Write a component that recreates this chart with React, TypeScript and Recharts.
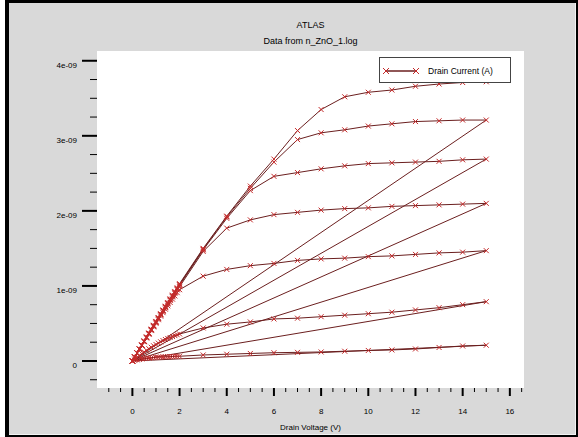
import { LineChart, Line, XAxis, YAxis, CartesianGrid, ReferenceArea, Legend } from 'recharts';

// drain voltage sweep points (V)
const VD = [0, 0.1, 0.2, 0.3, 0.4, 0.5, 0.6, 0.7, 0.8, 0.9, 1.0, 1.1, 1.2, 1.3, 1.4, 1.5, 1.6, 1.7, 1.8, 1.9, 2.0,
  3, 4, 5, 6, 7, 8, 9, 10, 11, 12, 13, 14, 15];

// drain current per gate step, in units of 1e-9 A
const ID_1 = [0, 0.008, 0.015, 0.021, 0.027, 0.032, 0.036, 0.04, 0.043, 0.046, 0.049, 0.051, 0.053, 0.055, 0.057, 0.058, 0.059, 0.06, 0.061, 0.062, 0.063,
  0.08, 0.09, 0.1, 0.11, 0.115, 0.12, 0.13, 0.14, 0.147, 0.16, 0.18, 0.2, 0.21];
const ID_2 = [0, 0.025, 0.05, 0.074, 0.097, 0.12, 0.142, 0.163, 0.183, 0.202, 0.22, 0.238, 0.255, 0.271, 0.286, 0.3, 0.313, 0.326, 0.338, 0.349, 0.36,
  0.44, 0.49, 0.52, 0.56, 0.57, 0.59, 0.61, 0.63, 0.65, 0.68, 0.71, 0.75, 0.79];
const ID_3 = [0, 0.052, 0.104, 0.155, 0.206, 0.256, 0.306, 0.356, 0.405, 0.454, 0.502, 0.55, 0.597, 0.644, 0.69, 0.735, 0.78, 0.824, 0.867, 0.91, 0.95,
  1.13, 1.22, 1.27, 1.3, 1.34, 1.36, 1.37, 1.39, 1.4, 1.42, 1.44, 1.45, 1.47];
const ID_4 = [0, 0.052, 0.104, 0.156, 0.208, 0.26, 0.311, 0.362, 0.413, 0.463, 0.513, 0.563, 0.612, 0.661, 0.71, 0.758, 0.806, 0.853, 0.9, 0.947, 0.99,
  1.46, 1.77, 1.88, 1.95, 1.98, 2.01, 2.03, 2.04, 2.06, 2.07, 2.08, 2.09, 2.1];
const ID_5 = [0, 0.053, 0.106, 0.158, 0.21, 0.262, 0.314, 0.365, 0.416, 0.467, 0.518, 0.568, 0.618, 0.668, 0.717, 0.766, 0.815, 0.863, 0.911, 0.959, 1.01,
  1.48, 1.9, 2.27, 2.46, 2.51, 2.56, 2.6, 2.63, 2.64, 2.65, 2.66, 2.68, 2.69];
const ID_6 = [0, 0.053, 0.106, 0.159, 0.212, 0.264, 0.316, 0.368, 0.42, 0.471, 0.522, 0.573, 0.623, 0.673, 0.723, 0.772, 0.821, 0.87, 0.918, 0.966, 1.02,
  1.49, 1.92, 2.3, 2.65, 2.95, 3.04, 3.08, 3.13, 3.16, 3.19, 3.2, 3.21, 3.21];
const ID_7 = [0, 0.054, 0.108, 0.161, 0.214, 0.267, 0.32, 0.372, 0.424, 0.476, 0.527, 0.578, 0.629, 0.679, 0.729, 0.779, 0.828, 0.877, 0.926, 0.975, 1.03,
  1.5, 1.93, 2.33, 2.69, 3.07, 3.35, 3.52, 3.58, 3.61, 3.66, 3.69, 3.71, 3.72];

const SWEEPS = [ID_1, ID_2, ID_3, ID_4, ID_5, ID_6, ID_7];

// one log file, sweeps concatenated (so each one jumps back to the origin)
const data = SWEEPS.flatMap((s) => s.map((i, k) => ({ v: VD[k], i })));

const X_TICKS = Array.from({ length: 36 }, (_, k) => -1 + k * 0.5);
const Y_TICKS = Array.from({ length: 18 }, (_, k) => -0.25 + k * 0.25);

const FONT = '"Liberation Sans", Arial, sans-serif';
const LINE = '#6b1f1f';
const MARK = '#c42a2a';

const isMajor = (v: number, step: number) => Math.abs(v / step - Math.round(v / step)) < 1e-6;

const YTick = (p: any) => {
  const { x, y, payload } = p;
  const major = isMajor(payload.value, 1);
  const label = payload.value === 0 ? '0' : `${payload.value}e-09`;
  return (
    <g>
      <line x1={x - (major ? 15 : 7)} x2={x} y1={y} y2={y} stroke="#000" strokeWidth={major ? 2 : 1} />
      {major && (
        <text x={x - 20} y={y + 4} dy="0.35em" textAnchor="end" fontSize={8} fontFamily={FONT} fill="#000">
          {label}
        </text>
      )}
    </g>
  );
};

const XTick = (p: any) => {
  const { x, y, payload } = p;
  const major = isMajor(payload.value, 2);
  return (
    <g>
      <line x1={x} x2={x} y1={y} y2={y + (major ? 8 : 4)} stroke="#000" strokeWidth={major ? 2 : 1} />
      {major && (
        <text x={x} y={y + 23} dy="0.35em" textAnchor="middle" fontSize={8} fontFamily={FONT} fill="#000">
          {payload.value}
        </text>
      )}
    </g>
  );
};

const Cross = (p: any) => {
  const { cx, cy, index } = p;
  if (cx == null || cy == null) return <g key={`d${index}`} />;
  const r = 2.5;
  return (
    <path key={`d${index}`} d={`M${cx - r},${cy - r}L${cx + r},${cy + r}M${cx - r},${cy + r}L${cx + r},${cy - r}`}
      stroke={MARK} strokeWidth={1} fill="none" />
  );
};

const LegendBox = () => (
  <div style={{ width: 132, height: 26, border: '1px solid #444', boxSizing: 'border-box', background: '#fff', position: 'relative' }}>
    <svg width={40} height={24} style={{ position: 'absolute', left: 2, top: 1 }}>
      <line x1={4} x2={34} y1={12} y2={12} stroke={LINE} strokeWidth={1.5} />
      <path d="M1,9L7,15M1,15L7,9M31,9L37,15M31,15L37,9" stroke={MARK} strokeWidth={1} />
    </svg>
    <span style={{ position: 'absolute', left: 48, top: 8, fontSize: 8.5, fontFamily: FONT, lineHeight: '10px', whiteSpace: 'nowrap' }}>
      Drain Current (A)
    </span>
  </div>
);

export default function App() {
  return (
    <div style={{ position: 'absolute', left: 0, top: 0, width: 578, height: 437, background: '#fff', fontFamily: FONT }}>
      <div style={{ position: 'absolute', left: 5, top: 0, width: 573, height: 437, background: '#000' }} />
      <div style={{ position: 'absolute', left: 9, top: 3, width: 566, height: 431, background: '#d9d9d9', borderRight: '1px solid #f2f2f2', borderBottom: '1px solid #f2f2f2' }} />
      <div style={{ position: 'absolute', left: 210, width: 201, top: 20, textAlign: 'center', fontSize: 9, lineHeight: '10px' }}>ATLAS</div>
      <div style={{ position: 'absolute', left: 210, width: 201, top: 36, textAlign: 'center', fontSize: 9, lineHeight: '10px' }}>Data from n_ZnO_1.log</div>
      <div style={{ position: 'absolute', left: 0, top: 0 }}>
        <LineChart width={578} height={437} data={data} margin={{ top: 51, right: 54, bottom: 19, left: 37 }}>
          <CartesianGrid horizontal={false} vertical={false} fill="#fff" />
          <XAxis type="number" dataKey="v" domain={[-1.5, 16.6]} ticks={X_TICKS} interval={0} allowDataOverflow
            height={30} tickSize={0} tickMargin={0} tickLine={false} axisLine={false} tick={<XTick />}
            label={{ value: 'Drain Voltage (V)', position: 'bottom', offset: 6, fontSize: 8, fontFamily: FONT, fill: '#000' }} />
          <YAxis type="number" domain={[-0.36, 4.13]} ticks={Y_TICKS} interval={0} allowDataOverflow
            width={60} tickSize={0} tickMargin={0} tickLine={false} axisLine={false} tick={<YTick />} />
          <ReferenceArea fill="none" fillOpacity={0} stroke="#444" strokeWidth={1} />
          <Legend layout="vertical" align="center" verticalAlign="middle" content={<LegendBox />}
            wrapperStyle={{ left: 379, top: 57, width: 132, height: 26 }} />
          <Line type="linear" dataKey="i" stroke={LINE} strokeWidth={1} dot={Cross} isAnimationActive={false} />
        </LineChart>
      </div>
    </div>
  );
}
